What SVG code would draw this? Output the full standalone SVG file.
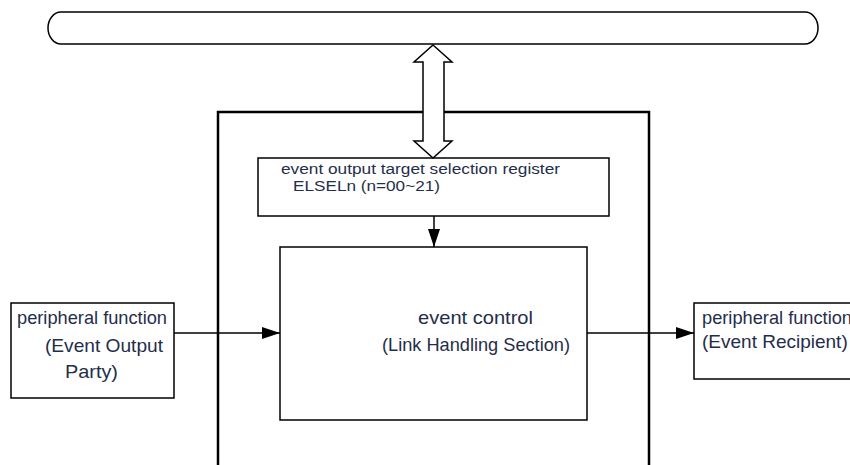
<svg xmlns="http://www.w3.org/2000/svg" width="850" height="465" viewBox="0 0 850 465">
<defs>
<style>
.box{fill:#fff;stroke:#000;stroke-width:1.5}
.frame{fill:none;stroke:#000;stroke-width:2.5}
.t{font-family:"Liberation Sans",Arial,sans-serif;fill:#1f2e4a}
.ln{stroke:#000;stroke-width:1.5;fill:none}
</style>
<marker id="ahw" markerWidth="18" markerHeight="12" viewBox="0 0 18 12" refX="18" refY="6" orient="auto" markerUnits="userSpaceOnUse">
<path d="M0,0 L18,6 L0,12 z" fill="#000"/>
</marker>
</defs>
<g id="bus">
<rect x="48" y="12" width="770" height="32" rx="13" ry="16" class="box"/>
</g>
<g id="frame">
<rect x="218" y="112" width="431" height="370" class="frame"/>
</g>
<g id="register">
<rect x="258" y="158" width="351" height="58" class="box"/>
<text class="t" x="281" y="174" font-size="15.5" textLength="279" lengthAdjust="spacingAndGlyphs">event output target selection register</text>
<text class="t" x="293" y="191" font-size="15.5" textLength="147" lengthAdjust="spacingAndGlyphs">ELSELn (n=00~21)</text>
</g>
<g id="control">
<rect x="280" y="247" width="307" height="173" class="box"/>
<text class="t" x="418" y="324" font-size="19" textLength="115" lengthAdjust="spacingAndGlyphs">event control</text>
<text class="t" x="382" y="351" font-size="18.5" textLength="188" lengthAdjust="spacingAndGlyphs">(Link Handling Section)</text>
</g>
<g id="source">
<rect x="11" y="303" width="163" height="95" class="box"/>
<text class="t" x="17" y="324" font-size="18.5" textLength="150" lengthAdjust="spacingAndGlyphs">peripheral function</text>
<text class="t" x="45" y="352" font-size="19" textLength="118" lengthAdjust="spacingAndGlyphs">(Event Output</text>
<text class="t" x="65" y="378" font-size="19" textLength="53" lengthAdjust="spacingAndGlyphs">Party)</text>
</g>
<g id="recipient">
<rect x="694" y="303" width="170" height="76" class="box"/>
<text class="t" x="702" y="324" font-size="18.5" textLength="150" lengthAdjust="spacingAndGlyphs">peripheral function</text>
<text class="t" x="702" y="348" font-size="19">(Event Recipient)</text>
</g>
<g id="connectors">
<path d="M433,45 L452,62 L444,62 L444,141 L452,141 L433,158 L414,141 L423,141 L423,62 L414,62 Z" class="box" stroke-width="2"/>
<line x1="434" y1="216" x2="434" y2="247" class="ln" marker-end="url(#ahw)"/>
<line x1="174" y1="333" x2="280" y2="333" class="ln" marker-end="url(#ahw)"/>
<line x1="587" y1="333" x2="694" y2="333" class="ln" marker-end="url(#ahw)"/>
</g>
</svg>
